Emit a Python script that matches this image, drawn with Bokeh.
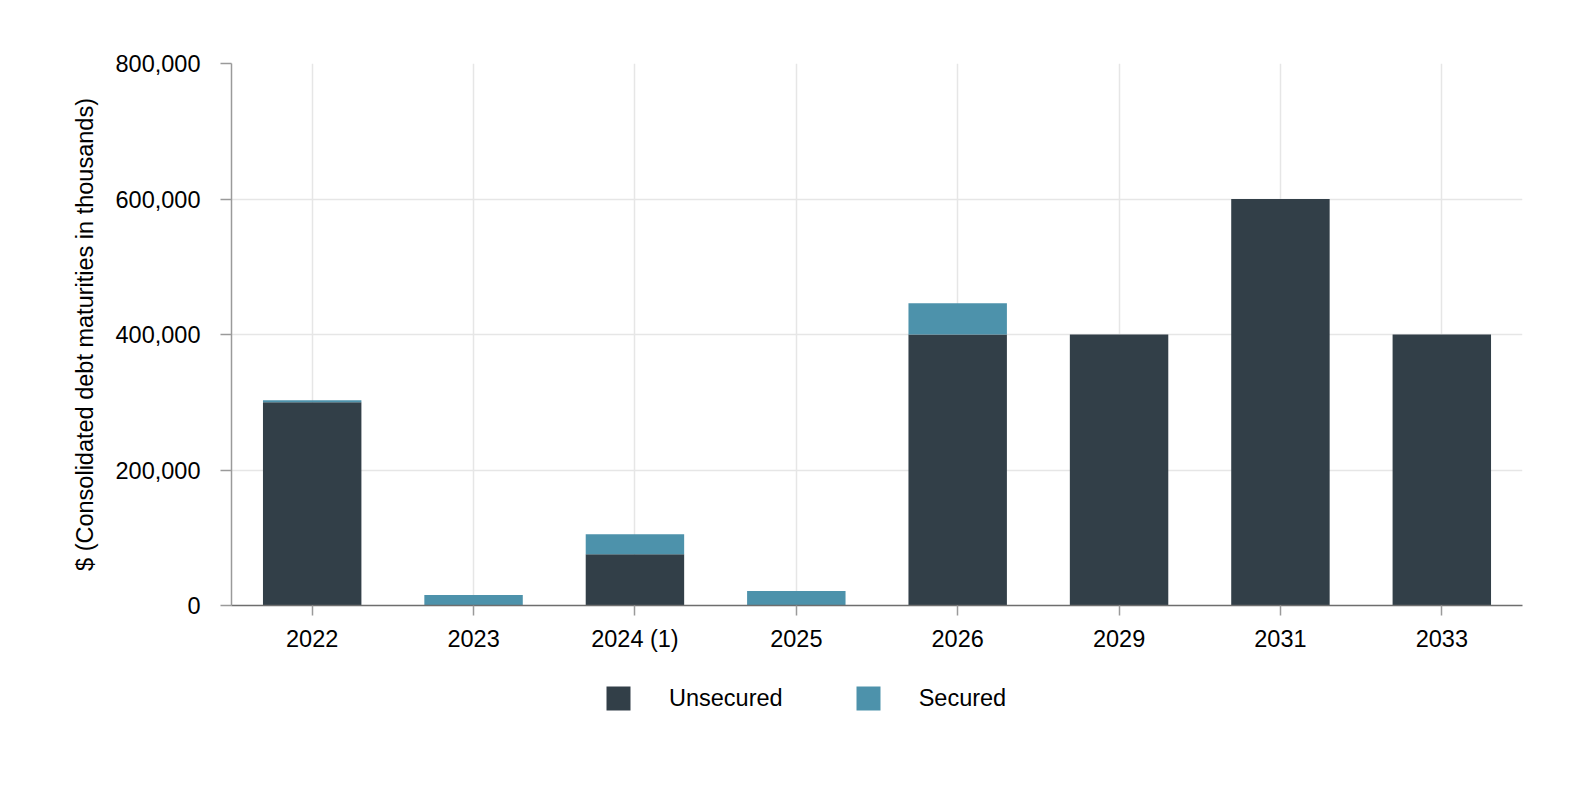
from bokeh.plotting import figure
from bokeh.layouts import column
from bokeh.models import (ColumnDataSource, Legend, LegendItem, NumeralTickFormatter,
                          FixedTicker, Range1d)
from bokeh.embed import file_html
from bokeh.resources import INLINE

years = ["2022", "2023", "2024 (1)", "2025", "2026", "2029", "2031", "2033"]
unsecured = [300000, 0, 75500, 0, 400000, 400000, 600000, 400000]
secured = [3000, 15500, 29500, 21500, 46000, 0, 0, 0]
series_names = ["Unsecured", "Secured"]
y_ticks = [0, 200000, 400000, 600000, 800000]

C_UNSEC = "#323f48"
C_SEC = "#4d92ab"
FONT = "Liberation Sans"
FS = "23.5px"

src = ColumnDataSource(dict(years=years, unsecured=unsecured, secured=secured,
                            top2=[u + s for u, s in zip(unsecured, secured)]))

p = figure(x_range=years, y_range=Range1d(0, 800000),
           frame_width=1291, frame_height=542,
           output_backend="svg", toolbar_location=None,
           min_border_left=231, min_border_right=56, min_border_top=63, min_border_bottom=55)

p.vbar(x="years", bottom=0, top="unsecured", width=0.61, source=src,
       fill_color=C_UNSEC, line_color=None)
p.vbar(x="years", bottom="unsecured", top="top2", width=0.61, source=src,
       fill_color=C_SEC, line_color=None)

p.outline_line_color = None
p.background_fill_color = "white"
p.border_fill_color = "white"

for g in (p.xgrid, p.ygrid):
    g.grid_line_color = "#e6e6e6"
    g.grid_line_width = 1.5

p.yaxis.ticker = FixedTicker(ticks=y_ticks)
p.yaxis.formatter = NumeralTickFormatter(format="0,0")
p.yaxis.axis_label = "$ (Consolidated debt maturities in thousands)"
p.yaxis.axis_label_text_font = FONT
p.yaxis.axis_label_text_font_size = FS
p.yaxis.axis_label_text_font_style = "normal"
p.yaxis.axis_label_text_color = "black"
p.yaxis.axis_label_standoff = 15

for ax in (p.xaxis, p.yaxis):
    ax.major_label_text_font = FONT
    ax.major_label_text_font_size = FS
    ax.major_label_text_color = "black"
    ax.axis_line_width = 1.5
    ax.major_tick_line_width = 1.5
    ax.minor_tick_line_color = None
    ax.major_tick_in = 0

p.yaxis.axis_line_color = "#9a9a9a"
p.yaxis.major_tick_line_color = "#9a9a9a"
p.xaxis.axis_line_color = "#6e6e6e"
p.xaxis.major_tick_line_color = "#9a9a9a"
p.yaxis.major_tick_out = 11
p.xaxis.major_tick_out = 10
p.yaxis.major_label_standoff = 20
p.xaxis.major_label_standoff = 10

# legend strip below the chart
LH = 110
leg = figure(width=1578, height=LH, x_range=Range1d(0, 100), y_range=Range1d(0, 100),
             output_backend="svg", toolbar_location=None,
             min_border_left=0, min_border_right=0, min_border_top=0, min_border_bottom=0)
leg.axis.visible = False
leg.grid.visible = False
leg.outline_line_color = None
leg.border_fill_color = "white"
leg.background_fill_color = "white"
# swatch renderers kept outside the visible range; only their legend entries show
offscreen = ColumnDataSource(dict(x=[-1000], top=[-1000]))
d1 = leg.vbar(x="x", top="top", width=1, source=offscreen, fill_color=C_UNSEC, line_color=None)
d2 = leg.vbar(x="x", top="top", width=1, source=offscreen, fill_color=C_SEC, line_color=None)

legend = Legend(items=[LegendItem(label=series_names[0], renderers=[d1]),
                       LegendItem(label=series_names[1], renderers=[d2])],
                orientation="horizontal", location=(372, 57),
                glyph_width=30, glyph_height=30, label_standoff=36, spacing=70,
                label_text_font=FONT, label_text_font_size=FS, label_text_color="black",
                border_line_color=None, background_fill_alpha=0,
                padding=0, margin=0, label_height=30)
leg.add_layout(legend, "center")

layout = column(p, leg, spacing=0)
open("out.html", "w").write(file_html(layout, INLINE))
